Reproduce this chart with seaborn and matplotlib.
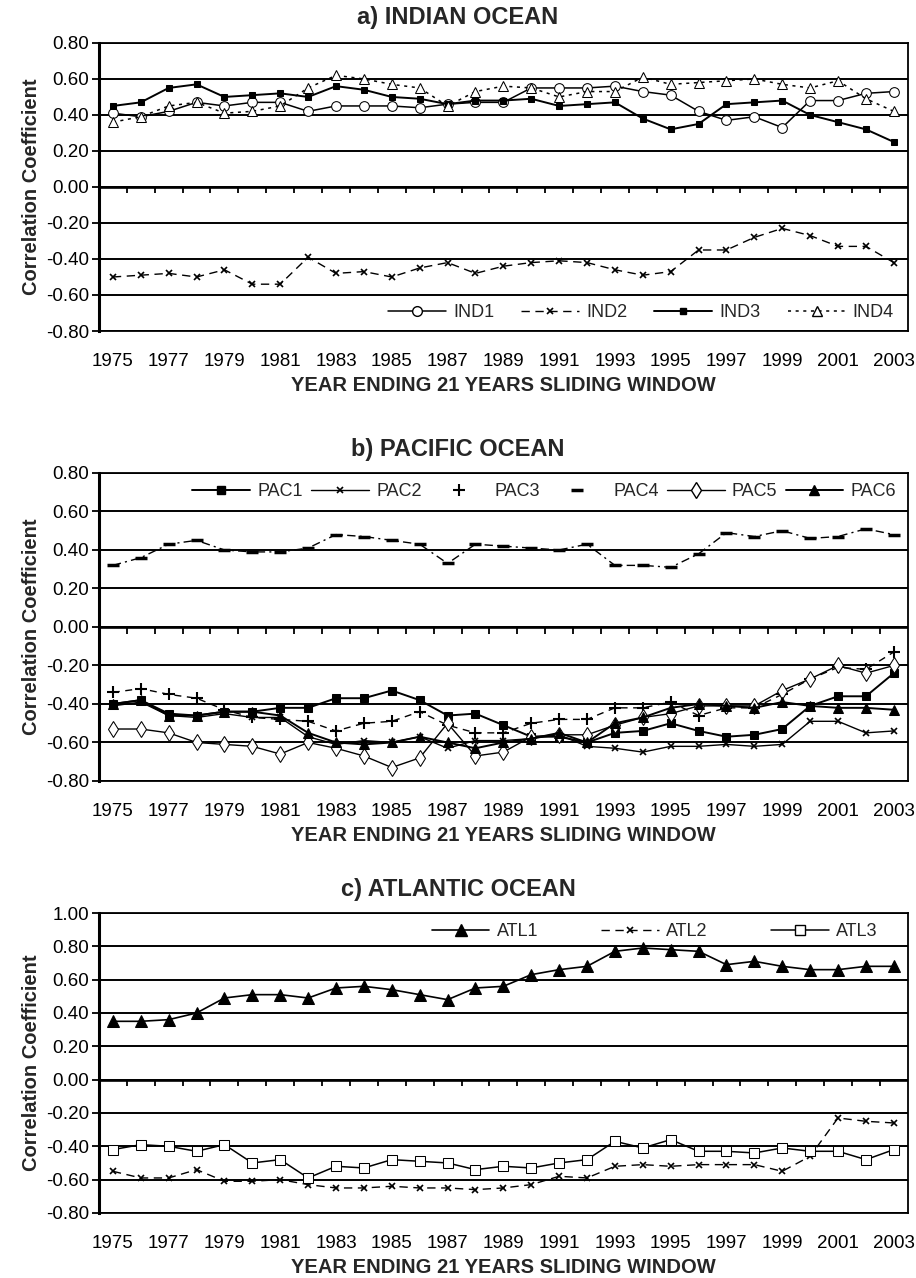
import numpy as np
import pandas as pd
import matplotlib
matplotlib.use("Agg")
import matplotlib.pyplot as plt
import seaborn as sns
from matplotlib.lines import Line2D

# --- Data ---
years = list(range(1975, 2004))

ind1 = [0.41, 0.39, 0.42, 0.47, 0.45, 0.47, 0.47, 0.42, 0.45, 0.45, 0.45, 0.44, 0.46, 0.47,
        0.47, 0.55, 0.55, 0.55, 0.56, 0.53, 0.51, 0.42, 0.37, 0.39, 0.33, 0.48, 0.48, 0.52, 0.53]
ind2 = [-0.50, -0.49, -0.48, -0.50, -0.46, -0.54, -0.54, -0.39, -0.48, -0.47, -0.50, -0.45, -0.42, -0.48,
        -0.44, -0.42, -0.41, -0.42, -0.46, -0.49, -0.47, -0.35, -0.35, -0.28, -0.23, -0.27, -0.33, -0.33, -0.42]
ind3 = [0.45, 0.47, 0.55, 0.57, 0.50, 0.51, 0.52, 0.50, 0.56, 0.54, 0.50, 0.49, 0.46, 0.48,
        0.48, 0.49, 0.45, 0.46, 0.47, 0.38, 0.32, 0.35, 0.46, 0.47, 0.48, 0.40, 0.36, 0.32, 0.25]
ind4 = [0.36, 0.39, 0.45, 0.47, 0.41, 0.42, 0.45, 0.55, 0.62, 0.60, 0.57, 0.55, 0.45, 0.53,
        0.56, 0.55, 0.50, 0.53, 0.53, 0.61, 0.57, 0.58, 0.59, 0.60, 0.57, 0.55, 0.59, 0.49, 0.42]

pac1 = [-0.40, -0.38, -0.45, -0.46, -0.44, -0.44, -0.42, -0.42, -0.37, -0.37, -0.33, -0.38, -0.46, -0.45,
        -0.51, -0.57, -0.57, -0.60, -0.55, -0.54, -0.50, -0.54, -0.57, -0.56, -0.53, -0.41, -0.36, -0.36, -0.24]
pac2 = [-0.41, -0.39, -0.46, -0.47, -0.45, -0.47, -0.47, -0.57, -0.61, -0.59, -0.60, -0.57, -0.63, -0.59,
        -0.59, -0.58, -0.56, -0.62, -0.63, -0.65, -0.62, -0.62, -0.61, -0.62, -0.61, -0.49, -0.49, -0.55, -0.54]
pac3 = [-0.34, -0.32, -0.35, -0.37, -0.43, -0.47, -0.48, -0.49, -0.54, -0.50, -0.49, -0.44, -0.51, -0.55,
        -0.55, -0.50, -0.48, -0.48, -0.42, -0.42, -0.39, -0.46, -0.42, -0.42, -0.35, -0.27, -0.21, -0.22, -0.13]
pac4 = [0.32, 0.36, 0.43, 0.45, 0.40, 0.39, 0.39, 0.41, 0.48, 0.47, 0.45, 0.43, 0.33, 0.43,
        0.42, 0.41, 0.40, 0.43, 0.32, 0.32, 0.31, 0.38, 0.49, 0.47, 0.50, 0.46, 0.47, 0.51, 0.48]
pac5 = [-0.53, -0.53, -0.55, -0.60, -0.61, -0.62, -0.66, -0.60, -0.63, -0.67, -0.73, -0.68, -0.50, -0.67,
        -0.65, -0.57, -0.56, -0.56, -0.51, -0.47, -0.45, -0.41, -0.41, -0.41, -0.33, -0.27, -0.20, -0.24, -0.20]
pac6 = [-0.40, -0.38, -0.46, -0.46, -0.44, -0.44, -0.46, -0.55, -0.60, -0.61, -0.60, -0.57, -0.60, -0.63,
        -0.60, -0.58, -0.55, -0.60, -0.50, -0.47, -0.42, -0.40, -0.41, -0.42, -0.39, -0.41, -0.42, -0.42, -0.43]

atl1 = [0.35, 0.35, 0.36, 0.40, 0.49, 0.51, 0.51, 0.49, 0.55, 0.56, 0.54, 0.51, 0.48, 0.55,
        0.56, 0.63, 0.66, 0.68, 0.77, 0.79, 0.78, 0.77, 0.69, 0.71, 0.68, 0.66, 0.66, 0.68, 0.68]
atl2 = [-0.55, -0.59, -0.59, -0.54, -0.61, -0.61, -0.60, -0.63, -0.65, -0.65, -0.64, -0.65, -0.65, -0.66,
        -0.65, -0.63, -0.58, -0.59, -0.52, -0.51, -0.52, -0.51, -0.51, -0.51, -0.55, -0.46, -0.23, -0.25, -0.26]
atl3 = [-0.42, -0.39, -0.40, -0.43, -0.39, -0.50, -0.48, -0.59, -0.52, -0.53, -0.48, -0.49, -0.50, -0.54,
        -0.52, -0.53, -0.50, -0.48, -0.37, -0.41, -0.36, -0.43, -0.43, -0.44, -0.41, -0.43, -0.43, -0.48, -0.42]

tick_years = list(range(1975, 2004, 2))

# --- Styling ---
sns.set_theme(style="white")
plt.rcParams['font.family'] = ['Liberation Sans', 'DejaVu Sans']

fig = plt.figure(figsize=(9.16, 12.78), dpi=100)

panels = [
    {
        "title": "a) INDIAN OCEAN", "title_y": 0.986,
        "rect": [0.108, 0.741, 0.883, 0.2254], "ylim": (-0.8, 0.8),
        "series": [
            ("IND1", ind1, dict(marker="o", mfc="white", ms=7, ls="-", lw=1.1)),
            ("IND2", ind2, dict(marker="x", ms=5, ls=(0, (6, 4)), lw=1.0, mew=1.2)),
            ("IND3", ind3, dict(marker="s", ms=5, ls="-", lw=1.4)),
            ("IND4", ind4, dict(marker="^", mfc="white", ms=7, ls=(0, (2, 3)), lw=1.1)),
        ],
        "no_line_legend": [],
        "legend": dict(loc="lower right", bbox_to_anchor=(0.995, 0.0), ncol=4,
                       columnspacing=1.5),
    },
    {
        "title": "b) PACIFIC OCEAN", "title_y": 0.648,
        "rect": [0.108, 0.3889, 0.883, 0.241], "ylim": (-0.8, 0.8),
        "series": [
            ("PAC1", pac1, dict(marker="s", ms=6, ls="-", lw=1.4)),
            ("PAC2", pac2, dict(marker="x", ms=5, ls="-", lw=1.0, mew=1.2)),
            ("PAC3", pac3, dict(marker="+", ms=9, ls=(0, (5, 4)), lw=1.0, mew=1.5)),
            ("PAC4", pac4, dict(marker="_", ms=9, ls=(0, (6, 3, 1.5, 3)), lw=1.0, mew=2.5)),
            ("PAC5", pac5, dict(marker="d", mfc="white", ms=8, ls="-", lw=1.0)),
            ("PAC6", pac6, dict(marker="^", ms=7, ls="-", lw=1.4)),
        ],
        "no_line_legend": ["PAC3", "PAC4"],
        "legend": dict(loc="upper right", bbox_to_anchor=(0.998, 1.0), ncol=6,
                       columnspacing=0.45),
    },
    {
        "title": "c) ATLANTIC OCEAN", "title_y": 0.3036,
        "rect": [0.108, 0.0509, 0.883, 0.2347], "ylim": (-0.8, 1.0),
        "series": [
            ("ATL1", atl1, dict(marker="^", ms=8, ls="-", lw=1.2)),
            ("ATL2", atl2, dict(marker="x", ms=5, ls=(0, (6, 4)), lw=1.0, mew=1.2)),
            ("ATL3", atl3, dict(marker="s", mfc="white", ms=7, ls="-", lw=1.1)),
        ],
        "no_line_legend": [],
        "legend": dict(loc="upper right", bbox_to_anchor=(0.975, 1.0), ncol=3,
                       columnspacing=3.5),
    },
]

for p in panels:
    ax = fig.add_axes(p["rect"])
    handles = []
    for name, vals, style in p["series"]:
        df = pd.DataFrame({"Year": years, "r": vals})
        sns.lineplot(data=df, x="Year", y="r", ax=ax, color="black",
                     mec="black", **style)
        leg_style = dict(style)
        if name in p["no_line_legend"]:
            leg_style["ls"] = "none"
        handles.append(Line2D([], [], color="black", mec="black", label=name, **leg_style))

    lo, hi = p["ylim"]
    yt = np.round(np.arange(lo, hi + 0.001, 0.2), 2)
    ax.set_ylim(lo, hi)
    ax.set_xlim(1974.5, 2003.5)
    ax.set_yticks(yt)
    ax.set_yticklabels([f"{abs(v) if abs(v) < 1e-9 else v:.2f}" for v in yt], fontsize=13.5)
    ax.set_xticks(tick_years)
    ax.set_xticklabels([str(y) for y in tick_years], fontsize=13.5)

    # horizontal gridlines
    for v in yt:
        ax.axhline(v, color="black", lw=1.4, zorder=0.5)
    ax.axhline(0, color="black", lw=1.9, zorder=0.6)
    # category boundary ticks on the zero line
    bounds = np.arange(1975.5, 2003.5, 1.0)
    ax.vlines(bounds, -0.035 * (hi - lo) / 1.6, 0, color="black", lw=1.3)

    ax.tick_params(axis="y", left=True, length=5, width=1.3, pad=2, colors="black")
    ax.tick_params(axis="x", bottom=False, pad=10, colors="black")
    for side, sp in ax.spines.items():
        sp.set_color("black")
        sp.set_linewidth(1.3)
    ax.spines["left"].set_linewidth(2.2)

    ax.set_ylabel("Correlation Coefficient", fontsize=14.5, fontweight="bold", labelpad=4)
    ax.set_xlabel("YEAR ENDING 21 YEARS SLIDING WINDOW", fontsize=14.5,
                  fontweight="bold", labelpad=4)

    ax.legend(handles=handles, frameon=False, handlelength=3.2, handletextpad=0.4,
              fontsize=13, borderaxespad=0.15, **p["legend"])

    fig.text(0.5, p["title_y"], p["title"], ha="center", va="center",
             fontsize=17, fontweight="bold")

fig.savefig("out.png", dpi=100)
